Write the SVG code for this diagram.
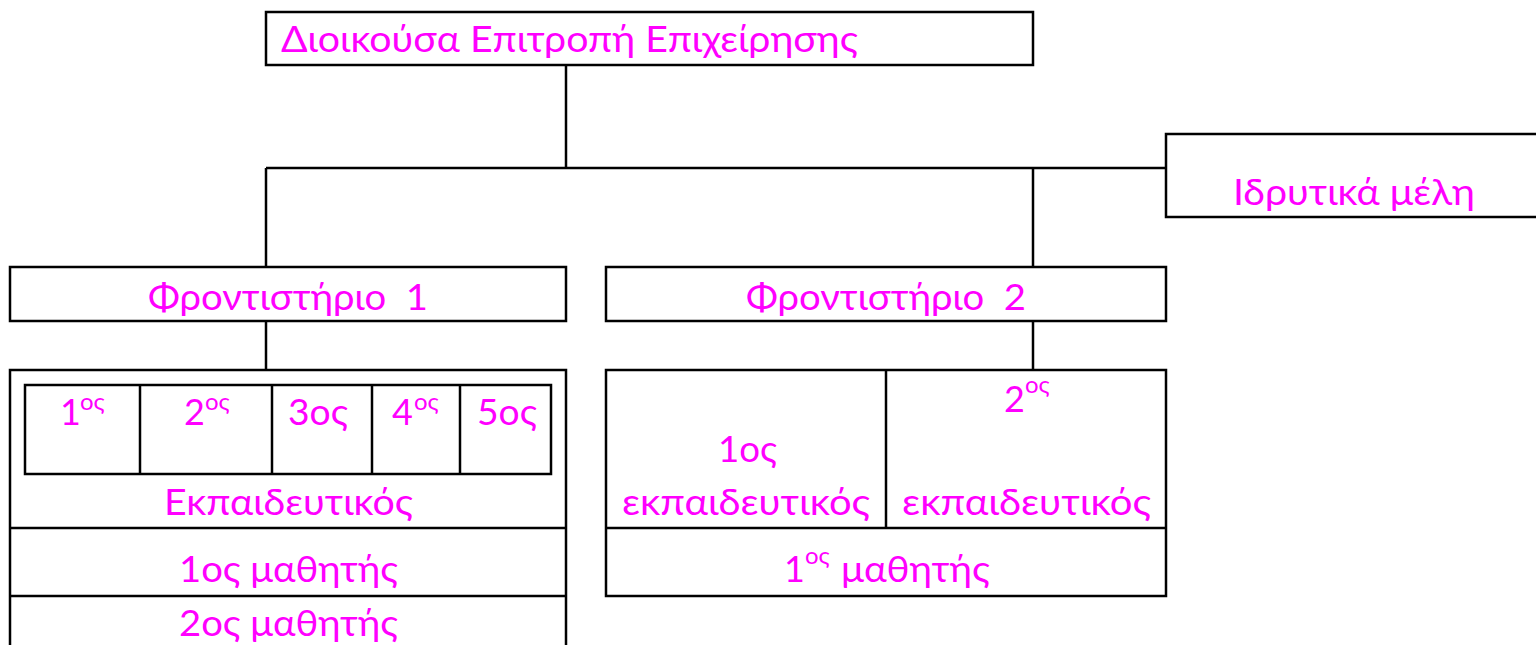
<svg xmlns="http://www.w3.org/2000/svg" width="1536" height="645" viewBox="0 0 1536 645">
<style>
.box{fill:#fff;stroke:#000;stroke-width:2.5}
.ln{fill:none;stroke:#000;stroke-width:2.5}
.t{font-family:Lato,"Open Sans","Noto Sans",sans-serif;font-size:36px;fill:#FF00FF}
.s{font-family:Lato,"Open Sans","Noto Sans",sans-serif;font-size:24px;fill:#FF00FF}
</style>
<rect width="1536" height="645" fill="#fff"/>
<g id="connectors">
<line class="ln" x1="566" y1="65" x2="566" y2="168"/>
<line class="ln" x1="266" y1="168" x2="1166" y2="168"/>
<line class="ln" x1="266" y1="168" x2="266" y2="267"/>
<line class="ln" x1="1033" y1="168" x2="1033" y2="267"/>
<line class="ln" x1="266" y1="321" x2="266" y2="370"/>
<line class="ln" x1="1033" y1="321" x2="1033" y2="370"/>
</g>
<g id="n-board">
<rect class="box" x="266" y="12" width="767" height="53"/>
<text class="t" x="281" y="52" textLength="577" lengthAdjust="spacingAndGlyphs">Διοικούσα Επιτροπή Επιχείρησης</text>
</g>
<g id="n-founders">
<rect class="box" x="1166" y="134" width="380" height="83"/>
<text class="t" x="1233" y="205" textLength="242" lengthAdjust="spacingAndGlyphs">Ιδρυτικά μέλη</text>
</g>
<g id="n-front1">
<rect class="box" x="10" y="267" width="556" height="54"/>
<text class="t" x="148" y="310" textLength="280" lengthAdjust="spacingAndGlyphs" xml:space="preserve">Φροντιστήριο  1</text>
</g>
<g id="n-front2">
<rect class="box" x="606" y="267" width="560" height="54"/>
<text class="t" x="746" y="310" textLength="280" lengthAdjust="spacingAndGlyphs" xml:space="preserve">Φροντιστήριο  2</text>
</g>
<g id="n-left-detail">
<rect class="box" x="10" y="370" width="556" height="290"/>
<line class="ln" x1="10" y1="528" x2="566" y2="528"/>
<line class="ln" x1="10" y1="596" x2="566" y2="596"/>
<rect class="box" x="25" y="385" width="526" height="89"/>
<line class="ln" x1="140" y1="385" x2="140" y2="474"/>
<line class="ln" x1="272" y1="385" x2="272" y2="474"/>
<line class="ln" x1="372" y1="385" x2="372" y2="474"/>
<line class="ln" x1="460" y1="385" x2="460" y2="474"/>
<text class="t" x="60" y="425">1</text><text class="s" x="80" y="410">ος</text>
<text class="t" x="184" y="425">2</text><text class="s" x="205" y="410">ος</text>
<text class="t" x="288" y="425" textLength="60" lengthAdjust="spacingAndGlyphs">3ος</text>
<text class="t" x="392" y="425">4</text><text class="s" x="414" y="410">ος</text>
<text class="t" x="477" y="425" textLength="60" lengthAdjust="spacingAndGlyphs">5ος</text>
<text class="t" x="164" y="515" textLength="249" lengthAdjust="spacingAndGlyphs">Εκπαιδευτικός</text>
<text class="t" x="179" y="582" textLength="219" lengthAdjust="spacingAndGlyphs">1ος μαθητής</text>
<text class="t" x="179" y="636" textLength="219" lengthAdjust="spacingAndGlyphs">2ος μαθητής</text>
</g>
<g id="n-right-detail">
<rect class="box" x="606" y="370" width="560" height="226"/>
<line class="ln" x1="606" y1="528" x2="1166" y2="528"/>
<line class="ln" x1="886" y1="370" x2="886" y2="528"/>
<text class="t" x="718" y="462" textLength="59" lengthAdjust="spacingAndGlyphs">1ος</text>
<text class="t" x="622" y="515" textLength="248" lengthAdjust="spacingAndGlyphs">εκπαιδευτικός</text>
<text class="t" x="1004" y="412">2</text><text class="s" x="1025" y="393">ος</text>
<text class="t" x="902" y="515" textLength="249" lengthAdjust="spacingAndGlyphs">εκπαιδευτικός</text>
<text class="t" x="784" y="582">1</text><text class="s" x="805" y="564">ος</text>
<text class="t" x="841" y="582" textLength="149" lengthAdjust="spacingAndGlyphs">μαθητής</text>
</g>
</svg>
